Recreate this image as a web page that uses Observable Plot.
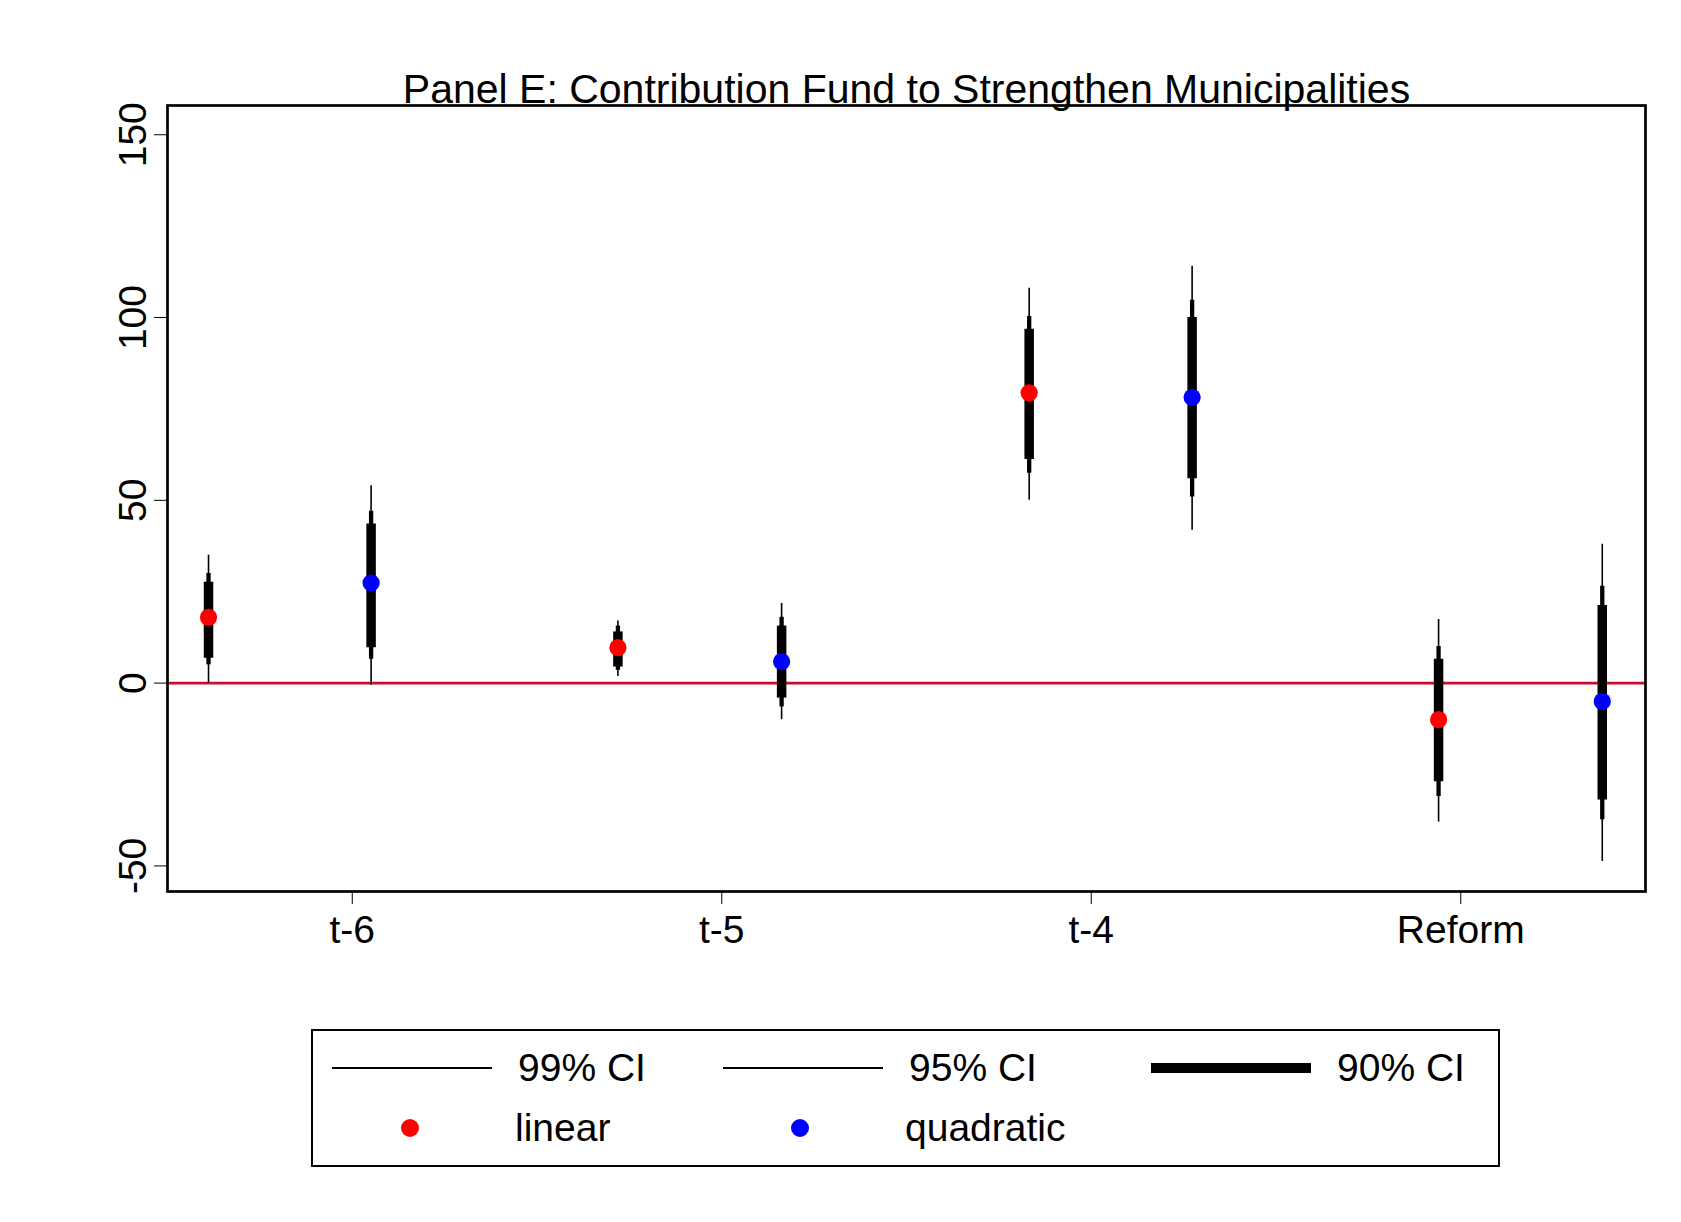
<!DOCTYPE html>
<html><head><meta charset="utf-8">
<script src="https://cdn.jsdelivr.net/npm/d3@7"></script>
<script src="https://cdn.jsdelivr.net/npm/@observablehq/plot@0.6"></script>
<style>
body{margin:0;background:#fff;font-family:"Liberation Sans",Arial,sans-serif;}
#wrap{position:relative;width:1681px;height:1222px;}
#legend{position:absolute;left:311px;top:1029px;width:1189px;height:138px;border:2px solid #000;box-sizing:border-box;font-size:39px;}
#legend .it{position:absolute;display:flex;align-items:center;}
</style></head><body>
<div id="wrap"><div id="chart"></div>
<div id="legend">
  <div class="it" style="left:19px;top:15px"><div style="width:160px;height:1.5px;background:#000"></div><span style="margin-left:26px">99% CI</span></div>
  <div class="it" style="left:410px;top:15px"><div style="width:160px;height:1.5px;background:#000"></div><span style="margin-left:26px">95% CI</span></div>
  <div class="it" style="left:838px;top:15px"><div style="width:160px;height:10px;background:#000"></div><span style="margin-left:26px">90% CI</span></div>
  <div class="it" style="left:88px;top:75px"><div style="width:18px;height:18px;border-radius:50%;background:#f00"></div><span style="margin-left:96px">linear</span></div>
  <div class="it" style="left:478px;top:75px"><div style="width:18px;height:18px;border-radius:50%;background:#00f"></div><span style="margin-left:96px">quadratic</span></div>
</div></div>
<script>
const periods = ["t-6", "t-5", "t-4", "Reform"];
const tickPos = [1, 2, 3, 4];
const xPos = [0.611, 1.051, 1.719, 2.162, 2.832, 3.273, 3.94, 4.383];
const model = ["linear","quadratic","linear","quadratic","linear","quadratic","linear","quadratic"];
const est   = [18, 27.4, 9.7, 5.9, 79.4, 78.2, -10, -5];
const lo90  = [6.8, 9.7, 4.4, -4.1, 61.2, 55.9, -27, -32];
const hi90  = [27.6, 43.5, 14, 15.6, 96.8, 100, 6.5, 21.2];
const lo95  = [5, 6.5, 3.5, -6.5, 57.4, 50.9, -31, -37.4];
const hi95  = [30, 47, 15.6, 18, 100.3, 104.7, 10, 26.5];
const lo99  = [0, -0.6, 1.8, -10, 50, 41.8, -38, -48.8];
const hi99  = [35, 54, 17, 21.8, 108, 114, 17.4, 38];

const rows = xPos.map((x, i) => ({x, model: model[i], est: est[i],
  lo90: lo90[i], hi90: hi90[i], lo95: lo95[i], hi95: hi95[i], lo99: lo99[i], hi99: hi99[i]}));

const chart = Plot.plot({
  width: 1681, height: 970,
  marginLeft: 167, marginRight: 36, marginTop: 105, marginBottom: 79,
  style: {fontFamily: "Liberation Sans, Arial, sans-serif", fontSize: "39px", color: "#000"},
  x: {domain: [0.5, 4.5], ticks: tickPos, tickFormat: d => periods[d - 1], label: null, tickSize: 13, tickPadding: 11},
  y: {domain: [-57, 158], ticks: [-50, 0, 50, 100, 150], tickFormat: d => String(d), label: null, tickSize: 13, tickRotate: -90, tickPadding: 9},
  color: {domain: ["linear","quadratic"], range: ["#ff0000","#0000ff"]},
  marks: [
    Plot.ruleY([0], {stroke: "#c8102e", strokeWidth: 2.7}),
    Plot.ruleX(rows, {x: "x", y1: "lo99", y2: "hi99", stroke: "#000", strokeWidth: 1.6}),
    Plot.ruleX(rows, {x: "x", y1: "lo95", y2: "hi95", stroke: "#000", strokeWidth: 4.3}),
    Plot.ruleX(rows, {x: "x", y1: "lo90", y2: "hi90", stroke: "#000", strokeWidth: 9.5}),
    Plot.dot(rows, {x: "x", y: "est", fill: "model", r: 8.6}),
    Plot.frame({stroke: "#000", strokeWidth: 2.7}),
    Plot.text(["Panel E: Contribution Fund to Strengthen Municipalities"], {
      frameAnchor: "top", dy: -32, fontSize: 41, fill: "#000"})
  ]
});
document.getElementById("chart").appendChild(chart);
</script></body></html>
